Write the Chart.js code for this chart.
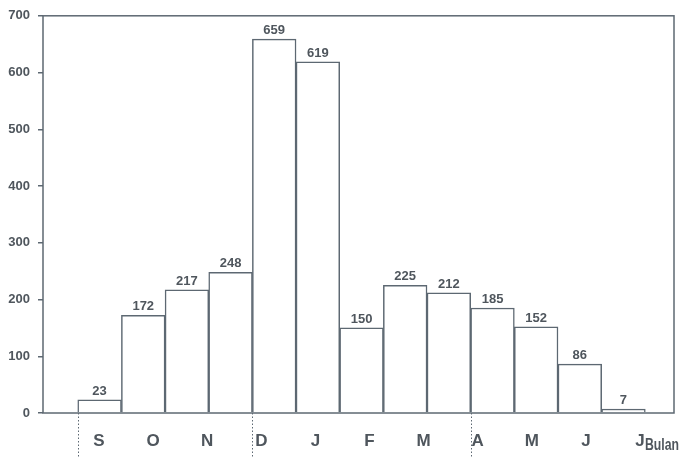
<!DOCTYPE html>
<html>
<head>
<meta charset="utf-8">
<script src="https://cdn.jsdelivr.net/npm/chart.js@4.4.0/dist/chart.umd.min.js"></script>
<style>
  html, body { margin: 0; padding: 0; background: #fff; }
  #wrap { width: 681px; height: 457px; position: relative; }
</style>
</head>
<body>
<div id="wrap"><canvas id="rain"></canvas></div>
<script>
// monthly values, Sep .. Sep (13 bars)
const values = [23, 172, 217, 248, 659, 619, 150, 225, 212, 185, 152, 86, 7];
// month letters printed under the axis
const months = ['S', 'O', 'N', 'D', 'J', 'F', 'M', 'A', 'M', 'J', 'J'];
const yMax = 700;
const yStep = 100;
const xTitle = 'Bulan';
// season breaks (between bars)
const seasonBreaks = [-0.5, 3.5, 8.5];

const ink = '#4f565d';
const line = '#5d6872';
const face = "'Liberation Sans', Arial, sans-serif";

const framePlugin = {
    id: 'frame',
    afterDraw(chart) {
        const ctx = chart.ctx;
        const a = chart.chartArea;
        const x = chart.scales.x;
        ctx.save();
        ctx.strokeStyle = line;
        ctx.lineWidth = 1.5;
        ctx.strokeRect(a.left, a.top, a.right - a.left, a.bottom - a.top);

        // dotted season lines under the axis
        ctx.lineWidth = 1;
        ctx.setLineDash([1.5, 2]);
        seasonBreaks.forEach(function (b) {
            const px = Math.round(x.getPixelForValue(b)) + 0.5;
            ctx.beginPath();
            ctx.moveTo(px, a.bottom);
            ctx.lineTo(px, chart.height);
            ctx.stroke();
        });
        ctx.setLineDash([]);

        // values above bars
        ctx.fillStyle = ink;
        ctx.font = 'bold 13px ' + face;
        ctx.textAlign = 'center';
        ctx.textBaseline = 'bottom';
        const meta = chart.getDatasetMeta(0);
        meta.data.forEach(function (bar, i) {
            ctx.fillText(String(values[i]), bar.x, bar.y - 2);
        });

        // axis title
        ctx.font = 'bold 16px ' + face;
        ctx.textAlign = 'center';
        ctx.textBaseline = 'middle';
        ctx.fillText(xTitle, a.right - 12, a.bottom + 33, 34);
        ctx.restore();
    }
};

new Chart(document.getElementById('rain'), {
    type: 'bar',
    data: {
        datasets: [{
            data: values.map(function (v, i) { return { x: i, y: v }; }),
            backgroundColor: '#ffffff',
            borderColor: line,
            borderWidth: 1.5,
            barPercentage: 1,
            categoryPercentage: 1,
        }]
    },
    options: {
        responsive: true,
        maintainAspectRatio: false,
        animation: false,
        layout: { padding: { top: 6, right: 7, left: 0, bottom: 0 } },
        plugins: {
            legend: { display: false },
            tooltip: { enabled: false },
        },
        scales: {
            x: {
                type: 'linear',
                display: false,
                offset: false,
                min: -1.296,
                max: 13.157,
            },
            x2: {
                type: 'linear',
                position: 'bottom',
                offset: false,
                min: -1.035,
                max: 10.628,
                grid: { display: false, offset: false },
                border: { display: false },
                afterBuildTicks: function (scale) {
                    scale.ticks = months.map(function (m, i) { return { value: i }; });
                },
                afterFit: function (scale) { scale.height = 44; },
                ticks: {
                    autoSkip: false,
                    maxRotation: 0,
                    minRotation: 0,
                    padding: 10,
                    color: ink,
                    font: { family: face, size: 17, weight: 'bold' },
                    callback: function (v) { return months[v]; },
                },
            },
            y: {
                min: 0,
                max: yMax,
                afterFit: function (scale) { scale.width = 43; },
                grid: {
                    drawOnChartArea: false,
                    tickLength: 5,
                    color: line,
                    lineWidth: 1.5,
                },
                border: { display: false },
                ticks: {
                    stepSize: yStep,
                    padding: 8,
                    color: ink,
                    font: { family: face, size: 13, weight: 'bold' },
                },
            },
        },
    },
    plugins: [framePlugin],
});
</script>
</body>
</html>
